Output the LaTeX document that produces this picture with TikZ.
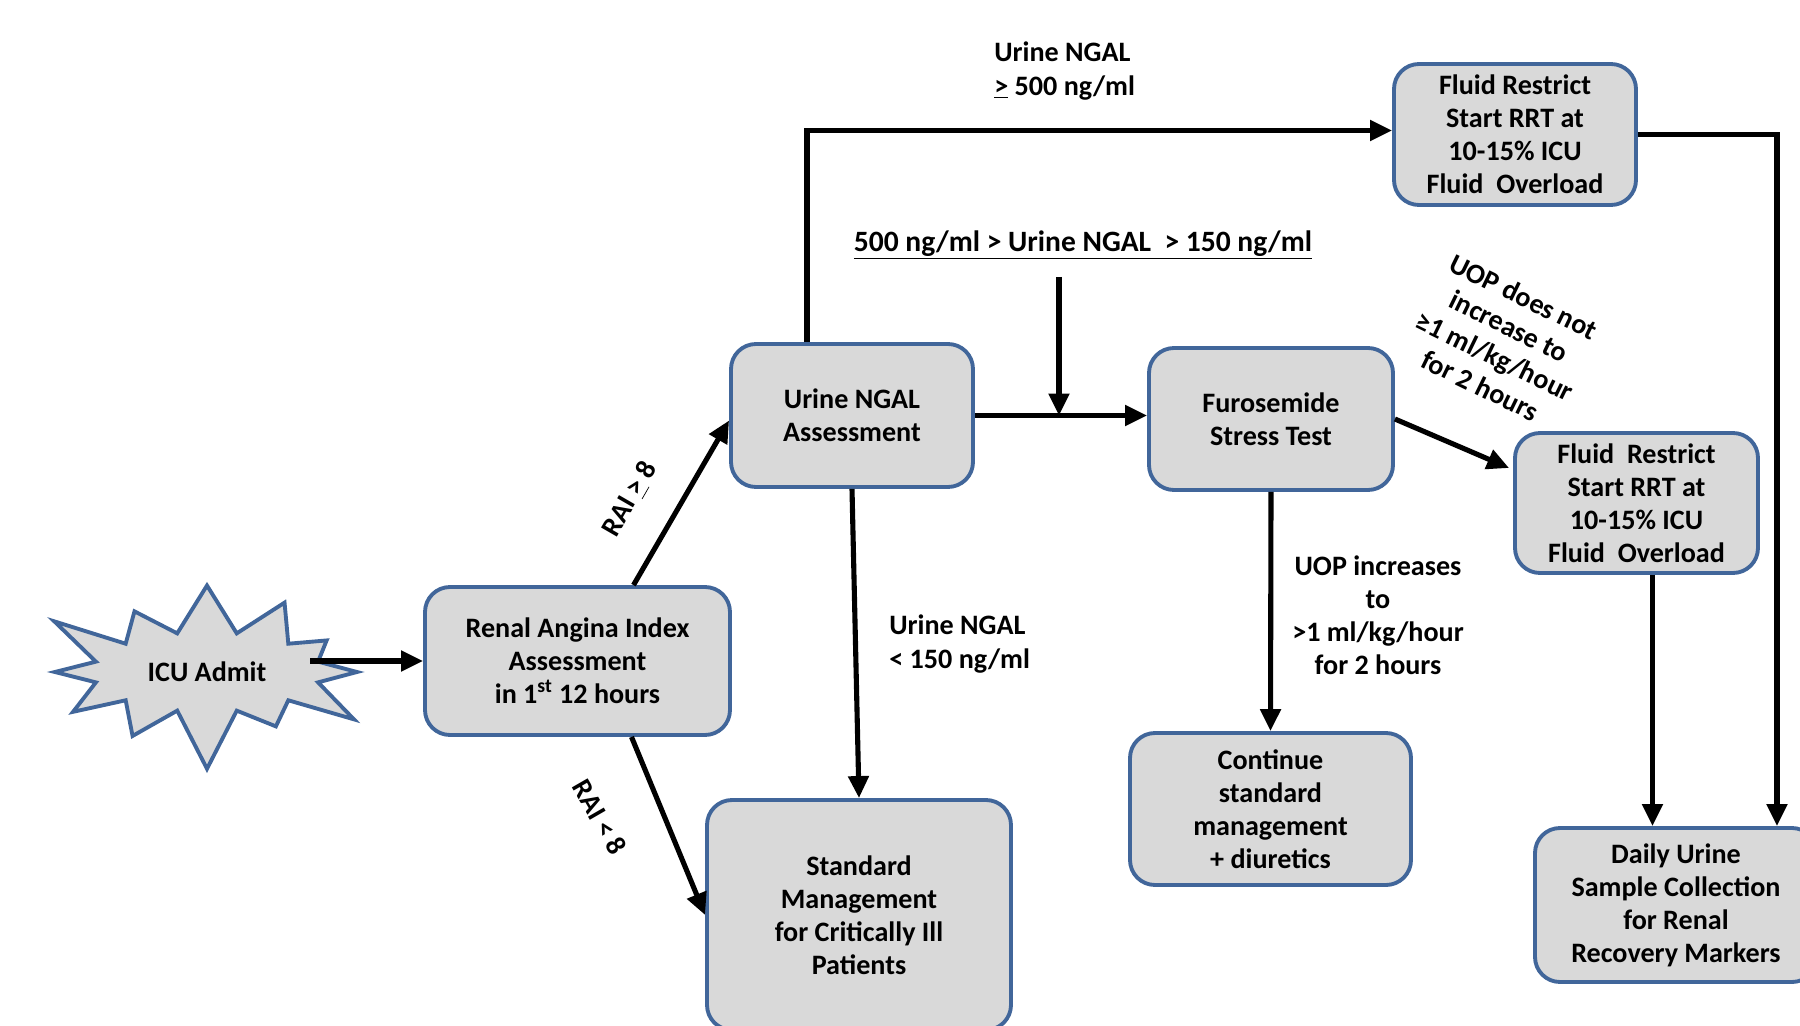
\documentclass[tikz,border=0pt]{standalone}
\usepackage{fontspec}
\setmainfont{Carlito}
\usetikzlibrary{shapes.symbols,arrows.meta,calc}

\definecolor{boxfill}{HTML}{D9D9D9}
\definecolor{boxline}{HTML}{41669A}
\newcommand{\fs}{\fontsize{16}{18.8}\selectfont\bfseries}

\tikzset{
  box/.style={draw=boxline, fill=boxfill, line width=2.2pt, rounded corners=5mm,
    align=center, font=\fs, inner sep=0pt},
  arr/.style={line width=2.9pt, -{Triangle[length=4.4mm,width=4mm]}},
  lbl/.style={font=\fs, inner sep=0pt},
}

\begin{document}
\begin{tikzpicture}[x=0.2mm,y=-0.2mm]
      \useasboundingbox (0,0) rectangle (1800,1026);
      % nodes
      \node[starburst, starburst points=12, starburst point height=13mm,
        minimum width=72mm, minimum height=42mm, draw=boxline, fill=boxfill,
        line width=2.2pt, font=\fs] (star) at (207,672) {ICU Admit};
      \node[box, minimum width={305*0.2mm}, minimum height={148*0.2mm}] (rai) at (577.5,661)
        {Renal Angina Index\\Assessment\\in 1\textsuperscript{st} 12 hours};
      \node[box, minimum width={242*0.2mm}, minimum height={143*0.2mm}] (ngal) at (852,415.5)
        {Urine NGAL\\Assessment};
      \node[box, minimum width={244*0.2mm}, minimum height={142*0.2mm}] (fst) at (1271,419)
        {Furosemide\\Stress Test};
      \node[box, minimum width={242*0.2mm}, minimum height={141*0.2mm}] (frtop) at (1515,134.5)
        {Fluid Restrict\\Start RRT at\\10-15\% ICU\\Fluid\ \ Overload};
      \node[box, minimum width={243*0.2mm}, minimum height={140*0.2mm}] (frmid) at (1636.5,503)
        {Fluid\ \ Restrict\\Start RRT at\\10-15\% ICU\\Fluid\ \ Overload};
      \node[box, minimum width={304*0.2mm}, minimum height={230*0.2mm}] (std) at (859,915)
        {Standard\\Management\\for Critically Ill\\Patients};
      \node[box, minimum width={281*0.2mm}, minimum height={152*0.2mm}] (cont) at (1270.5,809)
        {Continue\\standard\\management\\+ diuretics};
      \node[box, minimum width={282*0.2mm}, minimum height={154*0.2mm}] (daily) at (1676,905)
        {Daily Urine\\Sample Collection\\for Renal\\Recovery Markers};
      % labels
      \node[lbl, anchor=west, align=left] (hi) at (994,71)
        {Urine NGAL\\\underline{>} 500 ng/ml};
      \node[lbl, font=\fontsize{16.8}{19}\selectfont\bfseries] (mid) at (1083,245)
        {\underline{500 ng/ml > Urine NGAL\ \ > 150 ng/ml}};
      \node[lbl, anchor=west, align=left] (lo) at (889,644) {Urine NGAL\\< 150 ng/ml};
      \node[lbl, align=center] (up) at (1378,615)
        {UOP increases\\to\\>1 ml/kg/hour\\for 2 hours};
      \node[lbl, align=center, rotate=-26] (noup) at (1502,341)
        {UOP does not\\increase to\\≥1 ml/kg/hour\\for 2 hours};
      \node[lbl, rotate=60] (raihi) at (630,499) {RAI \underline{>} 8};
      \node[lbl, rotate=-60] (railo) at (600,817) {RAI < 8};
      % ICU to RAI
      \coordinate (starR) at ($(star.center)+(103,0)$);
      \draw[arr] (rai.west -| starR) -- (rai.west);
      % RAI
      \draw[arr] ($(rai.north)+(56,0)$) -- ($(ngal.west)+(0,5)$);
      \draw[arr] ($(rai.south)+(54,0)$) -- (std.west);
      % NGAL
      \draw[arr] ($(ngal.north)+(-45,0)$) |- ($(frtop.west)+(0,-4)$);
      \draw[arr] (ngal.east) -- (ngal.east -| fst.west);
      \coordinate (jn) at (1059,415.5);
      \draw[arr] ($(mid.south -| jn)+(0,17)$) -- (jn);
      \draw[arr] (ngal.south) -- (std.north);
      % FST
      \draw[arr] (fst.east) -- ($(frmid.west)+(-4,-35)$);
      \draw[arr] (fst.south) -- (cont.north);
      % to daily
      \draw[arr] (frtop.east) -| ($(daily.north)+(101,0)$);
      \draw[arr] ($(frmid.south)+(16,0)$) coordinate (p) -- (p |- daily.north);
\end{tikzpicture}
\end{document}
